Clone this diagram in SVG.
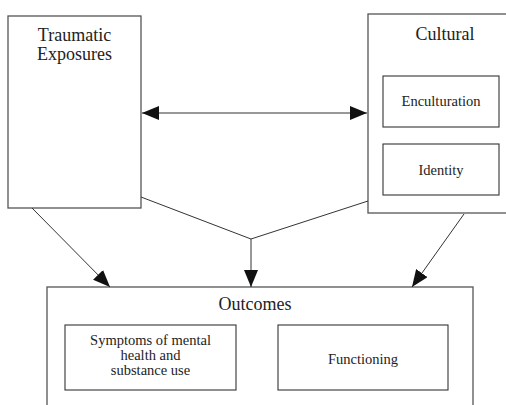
<svg xmlns="http://www.w3.org/2000/svg" width="506" height="405" viewBox="0 0 506 405">
<style>
.box{fill:#fff;stroke:#555;stroke-width:1.3}
.inner{fill:#fff;stroke:#333;stroke-width:1.1}
.t{font-family:"Liberation Serif","Times New Roman",serif;fill:#222;text-anchor:middle}
.big{font-size:18px}
.small{font-size:14.5px}
.ln{fill:none;stroke:#333;stroke-width:1}
</style>
<defs>
<marker id="ah" markerUnits="userSpaceOnUse" markerWidth="17" markerHeight="14" refX="17" refY="7" orient="auto-start-reverse">
<path d="M0,0 L17,7 L0,14 z" fill="#111"/>
</marker>
</defs>
<rect width="506" height="405" fill="#fff"/>
<g id="traumatic">
<rect class="box" x="8" y="16" width="133" height="192"/>
<text class="t big" x="74.5" y="41">Traumatic</text>
<text class="t big" x="74.5" y="60">Exposures</text>
</g>
<g id="cultural">
<rect class="box" x="368" y="14" width="145" height="199"/>
<text class="t big" x="445" y="40">Cultural</text>
</g>
<g id="enculturation">
<rect class="inner" x="383" y="76" width="116" height="51"/>
<text class="t small" x="441" y="106">Enculturation</text>
</g>
<g id="identity">
<rect class="inner" x="383" y="144" width="116" height="51"/>
<text class="t small" x="441" y="175">Identity</text>
</g>
<g id="outcomes">
<rect class="box" x="47" y="287" width="426" height="130"/>
<text class="t big" x="255" y="310">Outcomes</text>
</g>
<g id="symptoms">
<rect class="inner" x="65" y="325" width="171" height="65"/>
<text class="t small" x="150.5" y="345">Symptoms of mental</text>
<text class="t small" x="150.5" y="360">health and</text>
<text class="t small" x="150.5" y="375">substance use</text>
</g>
<g id="functioning">
<rect class="inner" x="278" y="325" width="170" height="65"/>
<text class="t small" x="363" y="364">Functioning</text>
</g>
<g id="connectors">
<line class="ln" x1="142" y1="113" x2="367" y2="113" marker-start="url(#ah)" marker-end="url(#ah)"/>
<line class="ln" x1="32" y1="208" x2="110" y2="287" marker-end="url(#ah)"/>
<line class="ln" x1="464" y1="214" x2="412" y2="287" marker-end="url(#ah)"/>
<polyline class="ln" points="141,197 251,239 368,201"/>
<line class="ln" x1="251" y1="239" x2="251" y2="287" marker-end="url(#ah)"/>
</g>
</svg>
